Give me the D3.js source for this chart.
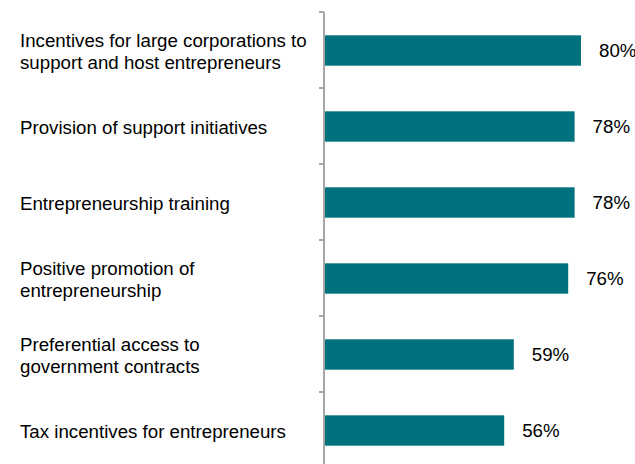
<!DOCTYPE html>
<html>
<head>
<meta charset="utf-8">
<script src="https://cdn.jsdelivr.net/npm/d3@7"></script>
<style>
  html, body { margin: 0; padding: 0; background: #fff; }
  svg { display: block; font-family: "Liberation Sans", Arial, sans-serif; }
</style>
</head>
<body>
<svg id="chart" width="635" height="464"></svg>
<script>
// Category labels, one entry per line of text
const categories = [
  ["Incentives for large corporations to", "support and host entrepreneurs"],
  ["Provision of support initiatives"],
  ["Entrepreneurship training"],
  ["Positive promotion of", "entrepreneurship"],
  ["Preferential access to", "government contracts"],
  ["Tax incentives for entrepreneurs"]
];
const values = [80, 78, 78, 76, 59, 56];
const valueLabels = ["80%", "78%", "78%", "76%", "59%", "56%"];

const svg = d3.select("#chart");
const axisX = 324;
const fontSize = 18.7;

const x = d3.scaleLinear().domain([0, 100]).range([axisX + 1, axisX + 1 + 320]);
const y = d3.scaleBand()
  .domain(d3.range(categories.length))
  .range([12, 12 + 76 * categories.length])
  .paddingInner(0.6)
  .paddingOuter(0.3);

const yTicks = d3.scaleLinear().domain([0, categories.length]).range([12, 12 + 76 * categories.length]);

// Bars
svg.append("g").selectAll("rect")
  .data(values)
  .join("rect")
  .attr("x", x(0))
  .attr("y", (d, i) => y(i) + 0.5)
  .attr("width", d => x(d) - x(0))
  .attr("height", y.bandwidth())
  .attr("fill", "#00727e");

// Category axis: vertical line with tick marks between bands
const axis = svg.append("g").attr("stroke", "#a6a6a6");
axis.append("line")
  .attr("x1", axisX).attr("x2", axisX)
  .attr("y1", yTicks(0)).attr("y2", 464)
  .attr("stroke-width", 2);
axis.selectAll("line.tick")
  .data(d3.range(categories.length))
  .join("line")
  .attr("class", "tick")
  .attr("x1", axisX - 5).attr("x2", axisX)
  .attr("y1", d => yTicks(d)).attr("y2", d => yTicks(d))
  .attr("stroke-width", 2);

// Category labels
const lineH = 22;
svg.append("g").selectAll("text")
  .data(categories)
  .join("text")
  .attr("x", 20)
  .attr("font-size", fontSize)
  .attr("fill", "#000")
  .each(function(lines, i) {
    const cy = y(i) + y.bandwidth() / 2 + 1;
    const top = cy - (lines.length - 1) * lineH / 2;
    d3.select(this).selectAll("tspan")
      .data(lines)
      .join("tspan")
      .attr("x", 20)
      .attr("y", (l, j) => top + j * lineH)
      .attr("dy", "0.36em")
      .text(l => l);
  });

// Value labels
svg.append("g").selectAll("text")
  .data(values)
  .join("text")
  .attr("x", d => x(d) + 18)
  .attr("y", (d, i) => y(i) + y.bandwidth() / 2)
  .attr("dy", "0.36em")
  .attr("font-size", fontSize)
  .attr("fill", "#000")
  .text((d, i) => valueLabels[i]);
</script>
</body>
</html>
